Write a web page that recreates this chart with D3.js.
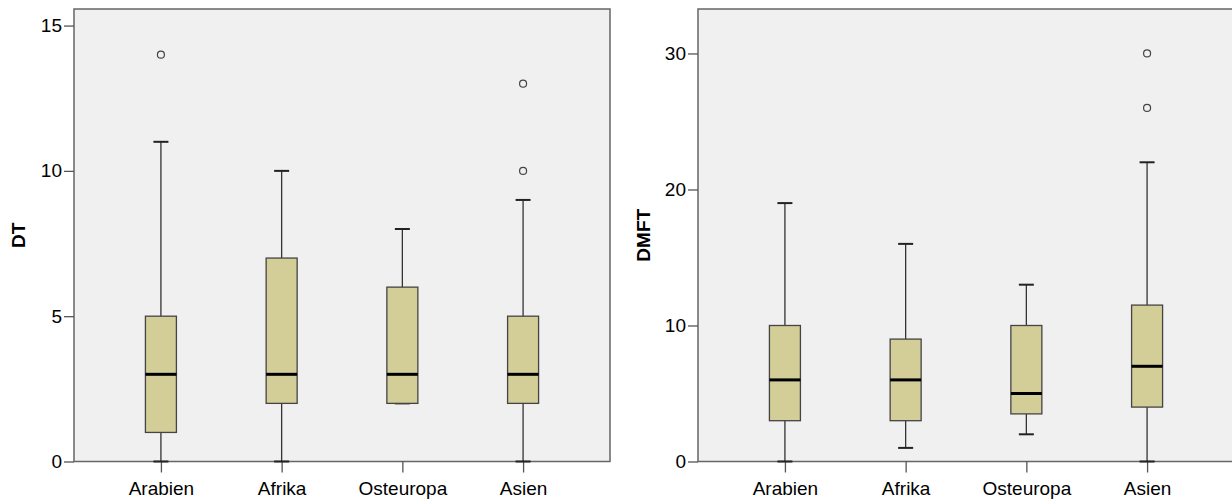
<!DOCTYPE html>
<html>
<head>
<meta charset="utf-8">
<script src="https://cdn.jsdelivr.net/npm/d3@7"></script>
<style>
  body { margin: 0; background: #fff; }
  svg { display: block; font-family: "Liberation Sans", Arial, sans-serif; }
</style>
</head>
<body>
<svg id="canvas"></svg>
<script>
let width = 1232;
let height = 500;

const groups = ['Arabien', 'Afrika', 'Osteuropa', 'Asien'];

// [min, q1, median, q3, max]
const dtStats = [[0, 1, 3, 5, 11], [0, 2, 3, 7, 10], [2, 2, 3, 6, 8], [0, 2, 3, 5, 9]];
const dtOutliers = [[14], [], [], [10, 13]];
const dtTicks = [0, 5, 10, 15];

const dmftStats = [[0, 3, 6, 10, 19], [1, 3, 6, 9, 16], [2, 3.5, 5, 10, 13], [0, 4, 7, 11.5, 22]];
const dmftOutliers = [[], [], [], [26, 30]];
const dmftTicks = [0, 10, 20, 30];

let canvas = d3.select('#canvas').attr('width', width).attr('height', height);

let plotTop = 9;
let plotBottom = 461.5;
let boxW = 31;
let capW = 15;

let drawPanel = (opts) => {
  let xScale = d3.scalePoint().domain(groups).range([opts.left, opts.right]).padding(0.72);
  let yScale = d3.scaleLinear().domain([0, opts.yMax]).range([plotBottom, plotTop]);

  let g = canvas.append('g');

  g.append('rect').
  attr('x', opts.left).
  attr('y', plotTop).
  attr('width', opts.right - opts.left).
  attr('height', plotBottom - plotTop).
  attr('fill', '#f0f0f0').
  attr('stroke', '#666').
  attr('stroke-width', 1.5);

  let yAxis = d3.axisLeft(yScale).tickValues(opts.ticks).tickSize(10).tickPadding(2).tickSizeOuter(0);
  let yG = g.append('g').
  attr('transform', 'translate(' + opts.left + ', 0)').
  call(yAxis);
  yG.select('.domain').remove();
  yG.selectAll('line').attr('stroke', '#555').attr('stroke-width', 1.3);
  yG.selectAll('text').attr('font-size', 19).attr('fill', '#000').attr('font-family', '"Liberation Sans", Arial, sans-serif');

  let xAxis = d3.axisBottom(xScale).tickSize(11).tickPadding(9).tickSizeOuter(0);
  let xG = g.append('g').
  attr('transform', 'translate(0, ' + plotBottom + ')').
  call(xAxis);
  xG.select('.domain').remove();
  xG.selectAll('line').attr('stroke', '#555').attr('stroke-width', 1.3);
  xG.selectAll('text').attr('font-size', 19).attr('fill', '#000').attr('font-family', '"Liberation Sans", Arial, sans-serif');

  let boxes = g.selectAll('g.box').
  data(opts.stats.map((s, i) => ({ name: groups[i], s: s, out: opts.outliers[i] }))).
  enter().
  append('g').
  attr('class', 'box');

  // whiskers
  boxes.append('line').
  attr('x1', d => xScale(d.name)).
  attr('x2', d => xScale(d.name)).
  attr('y1', d => yScale(d.s[0])).
  attr('y2', d => yScale(d.s[4])).
  attr('stroke', '#333').
  attr('stroke-width', 1.3);

  [0, 4].forEach(k => {
    boxes.append('line').
    attr('x1', d => xScale(d.name) - capW / 2).
    attr('x2', d => xScale(d.name) + capW / 2).
    attr('y1', d => yScale(d.s[k])).
    attr('y2', d => yScale(d.s[k])).
    attr('stroke', '#222').
    attr('stroke-width', 2);
  });

  boxes.append('rect').
  attr('x', d => xScale(d.name) - boxW / 2).
  attr('width', boxW).
  attr('y', d => yScale(d.s[3])).
  attr('height', d => yScale(d.s[1]) - yScale(d.s[3])).
  attr('fill', '#d3ce97').
  attr('stroke', '#444').
  attr('stroke-width', 1.3);

  boxes.append('line').
  attr('x1', d => xScale(d.name) - boxW / 2).
  attr('x2', d => xScale(d.name) + boxW / 2).
  attr('y1', d => yScale(d.s[2])).
  attr('y2', d => yScale(d.s[2])).
  attr('stroke', '#000').
  attr('stroke-width', 3);

  boxes.selectAll('circle').
  data(d => d.out.map(v => ({ name: d.name, v: v }))).
  enter().
  append('circle').
  attr('cx', d => xScale(d.name)).
  attr('cy', d => yScale(d.v)).
  attr('r', 3.5).
  attr('fill', 'none').
  attr('stroke', '#444').
  attr('stroke-width', 1.2);

  g.append('text').
  attr('transform', 'translate(' + opts.titleX + ', ' + (plotTop + plotBottom) / 2 + ') rotate(-90)').
  attr('text-anchor', 'middle').
  attr('dy', '0.35em').
  attr('font-size', 19).
  attr('font-weight', 'bold').
  text(opts.title);
};

drawPanel({ left: 74, right: 610, yMax: 15.57, stats: dtStats, outliers: dtOutliers, ticks: dtTicks, title: 'DT', titleX: 18 });
drawPanel({ left: 698, right: 1234, yMax: 33.27, stats: dmftStats, outliers: dmftOutliers, ticks: dmftTicks, title: 'DMFT', titleX: 643 });
</script>
</body>
</html>
